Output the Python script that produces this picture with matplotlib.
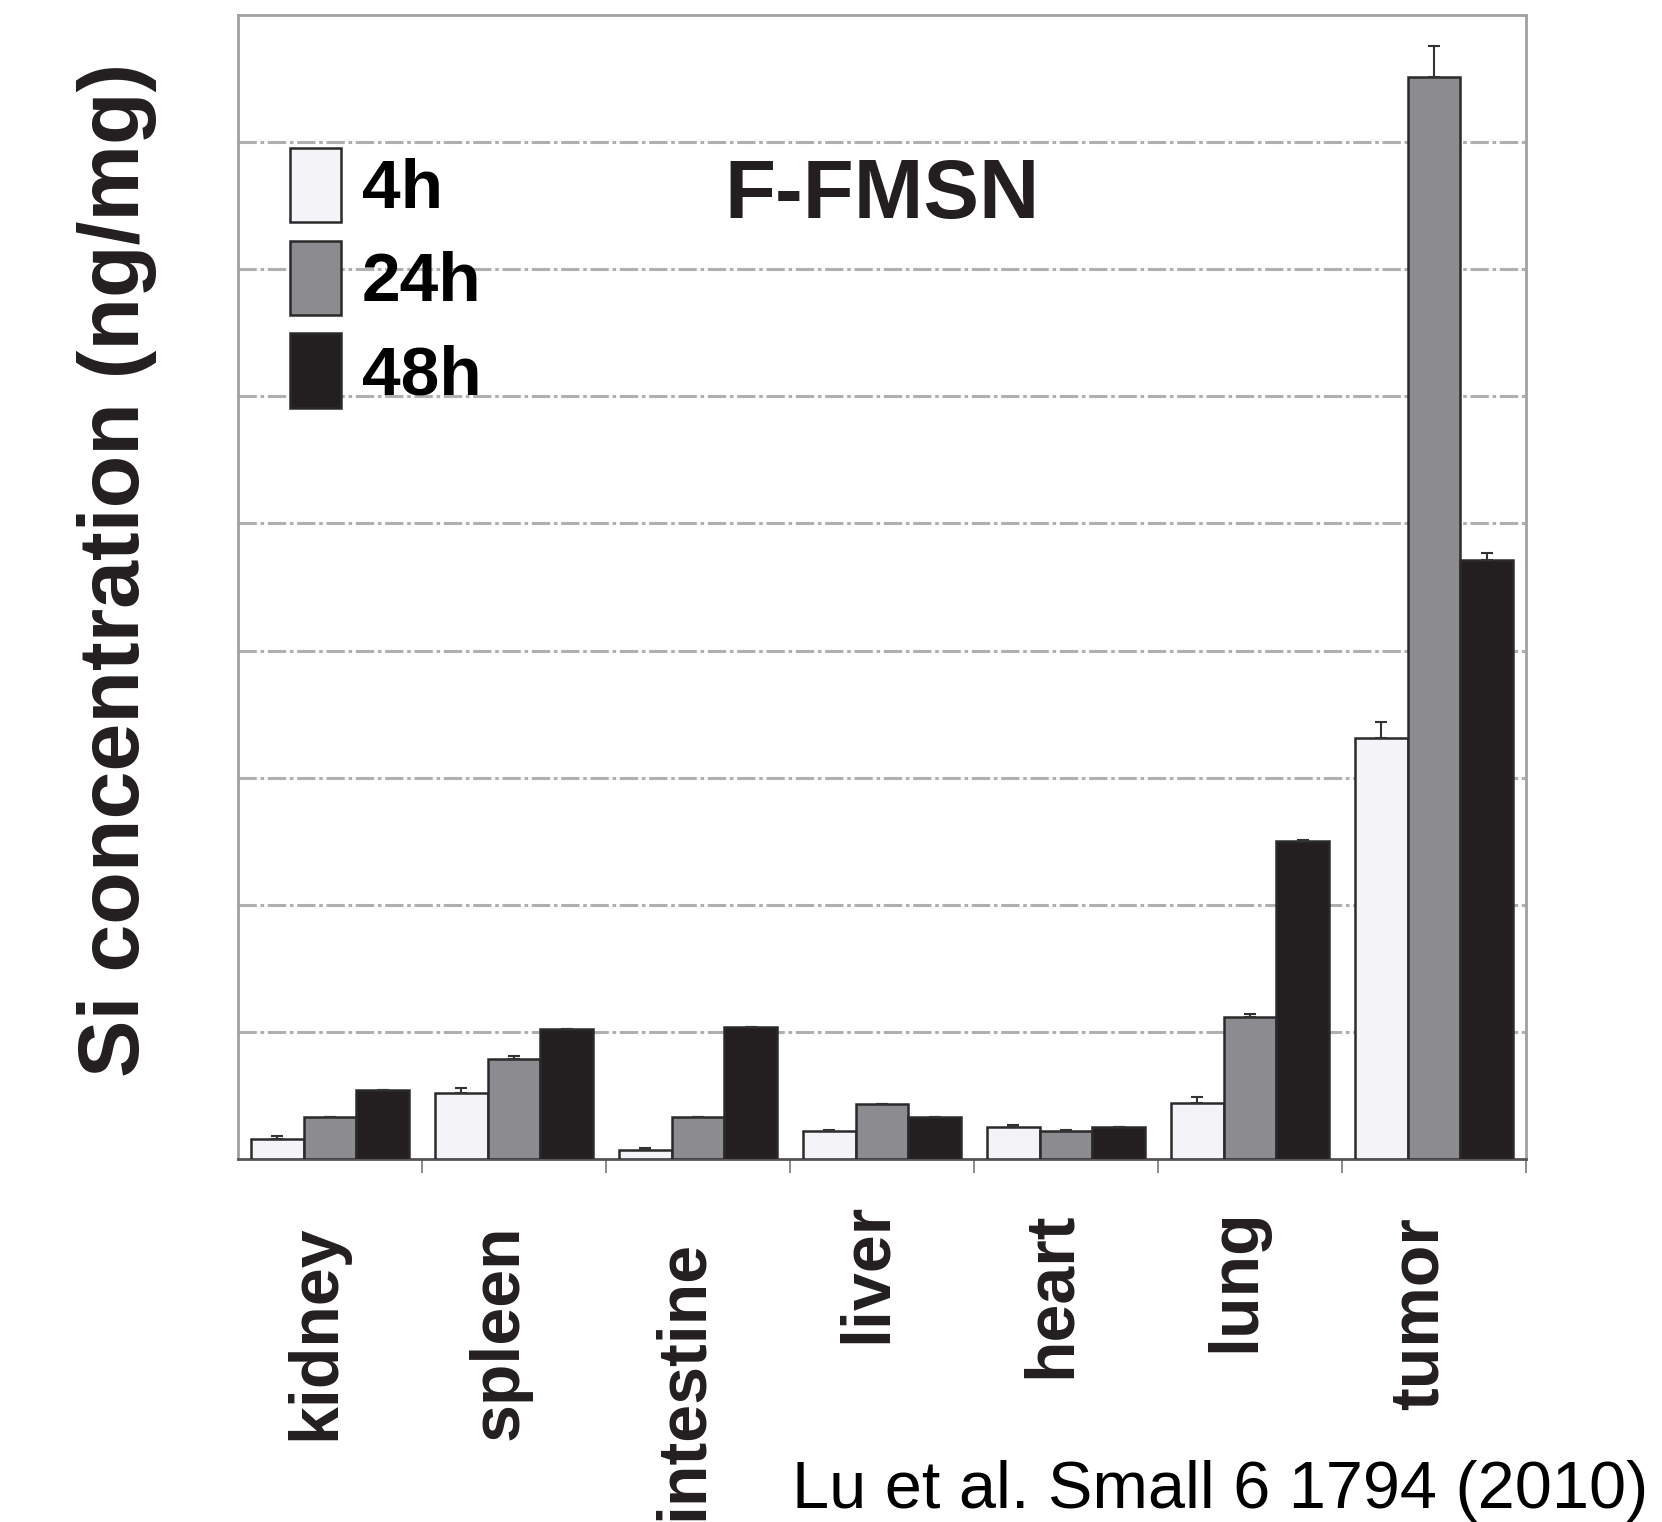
import numpy as np
import matplotlib.pyplot as plt

plt.rcParams['font.family'] = ['Liberation Sans', 'DejaVu Sans']

# data (one unit = one gridline step)
organs = ['kidney', 'spleen', 'intestine', 'liver', 'heart', 'lung', 'tumor']
series = ['4h', '24h', '48h']
val_4h = [0.16, 0.52, 0.07, 0.22, 0.25, 0.44, 3.31]
val_24h = [0.33, 0.79, 0.33, 0.43, 0.22, 1.12, 8.51]
val_48h = [0.54, 1.02, 1.04, 0.33, 0.25, 2.50, 4.71]
err_4h = [0.02, 0.04, 0.02, 0.01, 0.02, 0.05, 0.13]
err_24h = [0.0, 0.02, 0.0, 0.0, 0.01, 0.02, 0.25]
err_48h = [0.0, 0.0, 0.0, 0.0, 0.0, 0.01, 0.06]

colors = ['#f4f4f8', '#8c8b90', '#231f20']
# label layout tweaks (top of each rotated label, figure pixels from top)
label_top = [1224, 1224, 1240, 1203, 1212, 1208, 1217]

fig = plt.figure(figsize=(16.62, 15.22), dpi=100)
ax = fig.add_axes([238/1662, 1 - 1159/1522, 1288/1662, 1144/1522])

x = np.arange(len(organs))
w = 0.288
vals = [val_4h, val_24h, val_48h]
errs = [err_4h, err_24h, err_48h]
for k in range(3):
    ax.bar(x + (k - 1) * w, vals[k], w, color=colors[k], edgecolor='#2a2a2a',
           linewidth=1.8, label=series[k], zorder=3,
           yerr=[np.zeros(len(organs)), errs[k]], capsize=4,
           error_kw=dict(ecolor='#333333', elinewidth=1.5, capthick=1.5))

ax.set_xlim(-0.5, 6.5)
ax.set_ylim(0, 9)
ax.set_yticks(np.arange(1, 9))
ax.yaxis.grid(True, color='#b0b0b0', linewidth=2.2, linestyle=(0, (6, 1.2, 1.2, 1.2)), zorder=0)
ax.tick_params(axis='y', length=0, labelleft=False)
ax.set_xticks(np.arange(0.5, 7, 1))
ax.tick_params(axis='x', length=10, width=1.2, color='#777777', labelbottom=False)
for s in ['top', 'left', 'right']:
    ax.spines[s].set_color('#a0a0a0')
    ax.spines[s].set_linewidth(2)
ax.spines['bottom'].set_color('#555555')
ax.spines['bottom'].set_linewidth(2)

for i, name in enumerate(organs):
    xf = (238 + (i + 0.5) * 1288 / 7 - 14) / 1662
    fig.text(xf, 1 - label_top[i] / 1522, name, rotation=90, ha='center', va='top',
             fontsize=49, fontweight='bold', color='#231f20')

fig.text(117 / 1662, 1 - 570 / 1522, 'Si concentration (ng/mg)', rotation=90,
         ha='center', va='center', fontsize=62, fontweight='bold', color='#231f20')

ax.text(0.5, 0.842, 'F-FMSN', transform=ax.transAxes, ha='center', va='center',
        fontsize=60, fontweight='bold', color='#231f20')

ax.legend(loc='upper left', bbox_to_anchor=(0.040, 0.884), frameon=False,
          borderpad=0, borderaxespad=0,
          handlelength=0.74, handleheight=1.28, labelspacing=0.26,
          handletextpad=0.3, prop={'weight': 'bold', 'size': 50})

fig.text(0.992, 1 - 1508 / 1522, 'Lu et al. Small 6 1794 (2010)', ha='right',
         va='baseline', fontsize=48, color='black')

fig.savefig('out.png')
